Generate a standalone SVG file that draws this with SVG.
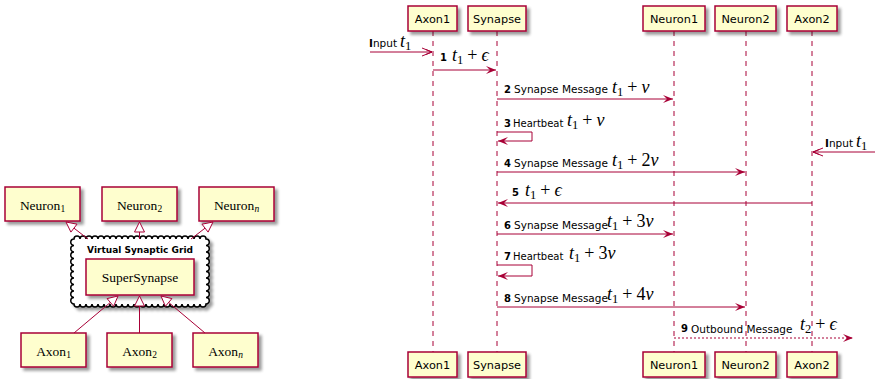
<svg xmlns="http://www.w3.org/2000/svg" width="875" height="379" viewBox="0 0 875 379">
<style>
.box{fill:#FEFECE;stroke:#A80036;stroke-width:1.5}
.pt{font-family:"DejaVu Sans",sans-serif;font-size:11.3px;fill:#000;text-anchor:middle}
.nt{font-family:"Liberation Serif","DejaVu Serif",serif;font-size:13.5px;fill:#000;text-anchor:middle}
.nsub{font-size:9.5px}
.life{stroke:#A80036;stroke-width:1;stroke-dasharray:5,5;fill:none}
.msg{stroke:#A80036;stroke-width:1;fill:none}
.lbl{font-family:"DejaVu Sans",sans-serif;font-size:10.5px;fill:#000}
.hb{font-size:10px}
.num{font-family:"DejaVu Sans",sans-serif;font-size:10px;font-weight:bold;fill:#000}
.m{font-family:"Liberation Serif","DejaVu Serif",serif;font-size:18px;fill:#000}
.i{font-style:italic}
.sb{font-size:12.5px}
.edge{stroke:#A80036;stroke-width:1;fill:none}
.tri{stroke:#A80036;stroke-width:1;fill:#FFFFFF}
</style>
<defs>
<filter id="sh" x="-20%" y="-30%" width="150%" height="170%">
<feGaussianBlur in="SourceAlpha" stdDeviation="1.5"/>
<feOffset dx="3" dy="3" result="o"/>
<feComponentTransfer><feFuncA type="linear" slope="0.4"/></feComponentTransfer>
<feMerge><feMergeNode/><feMergeNode in="SourceGraphic"/></feMerge>
</filter>
<marker id="ah" viewBox="0 0 10 8" refX="10" refY="4" markerWidth="10" markerHeight="8" markerUnits="userSpaceOnUse" orient="auto">
<path d="M0,0 L10,4 L0,8 L4,4 Z" fill="#A80036"/>
</marker>
<marker id="oa" viewBox="-1 -1 12 10" refX="10" refY="4" markerWidth="12" markerHeight="10" markerUnits="userSpaceOnUse" orient="auto">
<path d="M0,0 L10,4 L0,8 M4,1.6 L10,4 L4,6.4" fill="none" stroke="#A80036" stroke-width="1"/>
</marker>
</defs>

<!-- Left: class diagram -->
<g id="n-neuron1"><rect class="box" x="5" y="187" width="75" height="34" filter="url(#sh)"/><text class="nt" x="42.5" y="210">Neuron<tspan class="nsub" dy="2">1</tspan></text></g>
<g id="n-neuron2"><rect class="box" x="102" y="187" width="75" height="34" filter="url(#sh)"/><text class="nt" x="139.5" y="210">Neuron<tspan class="nsub" dy="2">2</tspan></text></g>
<g id="n-neuronn"><rect class="box" x="199" y="187" width="75" height="34" filter="url(#sh)"/><text class="nt" x="236.5" y="210">Neuron<tspan class="nsub i" dy="2">n</tspan></text></g>

<g id="n-grid">
<path filter="url(#sh)" fill="#FFFFFF" stroke="#000000" stroke-width="1.5" d="M74,239 a3,3 0 0 1 6,0 a3,3 0 0 1 6,0 a3,3 0 0 1 6,0 a3,3 0 0 1 6,0 a3,3 0 0 1 6,0 a3,3 0 0 1 6,0 a3,3 0 0 1 6,0 a3,3 0 0 1 6,0 a3,3 0 0 1 6,0 a3,3 0 0 1 6,0 a3,3 0 0 1 6,0 a3,3 0 0 1 6,0 a3,3 0 0 1 6,0 a3,3 0 0 1 6,0 a3,3 0 0 1 6,0 a3,3 0 0 1 6,0 a3,3 0 0 1 6,0 a3,3 0 0 1 6,0 a3,3 0 0 1 6,0 a3,3 0 0 1 6,0 a3,3 0 0 1 6,0 a3,3 0 0 1 6,0 a3.25,3.25 0 0 1 0,6.5 a3.25,3.25 0 0 1 0,6.5 a3.25,3.25 0 0 1 0,6.5 a3.25,3.25 0 0 1 0,6.5 a3.25,3.25 0 0 1 0,6.5 a3.25,3.25 0 0 1 0,6.5 a3.25,3.25 0 0 1 0,6.5 a3.25,3.25 0 0 1 0,6.5 a3.25,3.25 0 0 1 0,6.5 a3.25,3.25 0 0 1 0,6.5 a3,3 0 0 1 -6,0 a3,3 0 0 1 -6,0 a3,3 0 0 1 -6,0 a3,3 0 0 1 -6,0 a3,3 0 0 1 -6,0 a3,3 0 0 1 -6,0 a3,3 0 0 1 -6,0 a3,3 0 0 1 -6,0 a3,3 0 0 1 -6,0 a3,3 0 0 1 -6,0 a3,3 0 0 1 -6,0 a3,3 0 0 1 -6,0 a3,3 0 0 1 -6,0 a3,3 0 0 1 -6,0 a3,3 0 0 1 -6,0 a3,3 0 0 1 -6,0 a3,3 0 0 1 -6,0 a3,3 0 0 1 -6,0 a3,3 0 0 1 -6,0 a3,3 0 0 1 -6,0 a3,3 0 0 1 -6,0 a3,3 0 0 1 -6,0 a3.25,3.25 0 0 1 0,-6.5 a3.25,3.25 0 0 1 0,-6.5 a3.25,3.25 0 0 1 0,-6.5 a3.25,3.25 0 0 1 0,-6.5 a3.25,3.25 0 0 1 0,-6.5 a3.25,3.25 0 0 1 0,-6.5 a3.25,3.25 0 0 1 0,-6.5 a3.25,3.25 0 0 1 0,-6.5 a3.25,3.25 0 0 1 0,-6.5 a3.25,3.25 0 0 1 0,-6.5 Z"/>
<text x="140" y="253" font-family="'DejaVu Sans',sans-serif" font-size="9px" font-weight="bold" text-anchor="middle">Virtual Synaptic Grid</text>
</g>
<g id="n-supersynapse"><rect class="box" x="86" y="259" width="108" height="36" filter="url(#sh)"/><text class="nt" x="140" y="282">SuperSynapse</text></g>

<g id="n-axon1"><rect class="box" x="21" y="333" width="65" height="34" filter="url(#sh)"/><text class="nt" x="53.5" y="356">Axon<tspan class="nsub" dy="2">1</tspan></text></g>
<g id="n-axon2"><rect class="box" x="107" y="333" width="65" height="34" filter="url(#sh)"/><text class="nt" x="139.5" y="356">Axon<tspan class="nsub" dy="2">2</tspan></text></g>
<g id="n-axonn"><rect class="box" x="193" y="333" width="65" height="34" filter="url(#sh)"/><text class="nt" x="225.5" y="356">Axon<tspan class="nsub i" dy="2">n</tspan></text></g>

<g id="class-edges">
<line class="edge" x1="88" y1="239" x2="73.9" y2="228.1"/><polygon class="tri" points="66,222 77,224.2 70.9,232.1"/>
<line class="edge" x1="139.5" y1="239" x2="139.5" y2="232"/><polygon class="tri" points="139.5,222 144.5,232 134.5,232"/>
<line class="edge" x1="191" y1="239" x2="205.1" y2="228.1"/><polygon class="tri" points="213,222 208.1,232.1 202,224.2"/>
<line class="edge" x1="74" y1="333" x2="110.4" y2="302.4"/><polygon class="tri" points="118,296 113.6,306.3 107.1,298.6"/>
<line class="edge" x1="139.5" y1="333" x2="139.5" y2="306"/><polygon class="tri" points="139.5,296 144.5,306 134.5,306"/>
<line class="edge" x1="205" y1="333" x2="168.6" y2="302.4"/><polygon class="tri" points="161,296 171.9,298.6 165.4,306.3"/>
</g>

<!-- Right: sequence diagram -->
<g id="lifelines">
<line class="life" x1="433" y1="31" x2="433" y2="352"/>
<line class="life" x1="497" y1="31" x2="497" y2="352"/>
<line class="life" x1="674" y1="31" x2="674" y2="352"/>
<line class="life" x1="746" y1="31" x2="746" y2="352"/>
<line class="life" x1="812" y1="31" x2="812" y2="352"/>
</g>

<g id="p-axon1">
<rect class="box" x="408" y="6" width="49" height="25" filter="url(#sh)"/><text class="pt" x="432.5" y="23">Axon1</text>
<rect class="box" x="408" y="352" width="49" height="25" filter="url(#sh)"/><text class="pt" x="432.5" y="369">Axon1</text>
</g>
<g id="p-synapse">
<rect class="box" x="468" y="6" width="58" height="25" filter="url(#sh)"/><text class="pt" x="497" y="23">Synapse</text>
<rect class="box" x="468" y="352" width="58" height="25" filter="url(#sh)"/><text class="pt" x="497" y="369">Synapse</text>
</g>
<g id="p-neuron1">
<rect class="box" x="643" y="6" width="62" height="25" filter="url(#sh)"/><text class="pt" x="674" y="23">Neuron1</text>
<rect class="box" x="643" y="352" width="62" height="25" filter="url(#sh)"/><text class="pt" x="674" y="369">Neuron1</text>
</g>
<g id="p-neuron2">
<rect class="box" x="715" y="6" width="61" height="25" filter="url(#sh)"/><text class="pt" x="745.5" y="23">Neuron2</text>
<rect class="box" x="715" y="352" width="61" height="25" filter="url(#sh)"/><text class="pt" x="745.5" y="369">Neuron2</text>
</g>
<g id="p-axon2">
<rect class="box" x="787" y="6" width="50" height="25" filter="url(#sh)"/><text class="pt" x="812" y="23">Axon2</text>
<rect class="box" x="787" y="352" width="50" height="25" filter="url(#sh)"/><text class="pt" x="812" y="369">Axon2</text>
</g>

<g id="messages">
<line class="msg" x1="370" y1="52" x2="432" y2="52" marker-end="url(#oa)"/>
<line class="msg" x1="433" y1="70" x2="496" y2="70" marker-end="url(#ah)"/>
<line class="msg" x1="497" y1="99" x2="673" y2="99" marker-end="url(#ah)"/>
<path class="msg" d="M497,132 H532 V141 H498" marker-end="url(#ah)"/>
<line class="msg" x1="875" y1="152" x2="813" y2="152" marker-end="url(#oa)"/>
<line class="msg" x1="497" y1="172" x2="745" y2="172" marker-end="url(#ah)"/>
<line class="msg" x1="812" y1="203" x2="498" y2="203" marker-end="url(#ah)"/>
<line class="msg" x1="497" y1="234" x2="673" y2="234" marker-end="url(#ah)"/>
<path class="msg" d="M497,265 H532 V276 H498" marker-end="url(#ah)"/>
<line class="msg" x1="497" y1="307" x2="745" y2="307" marker-end="url(#ah)"/>
<line class="msg" x1="674" y1="338" x2="853" y2="338" stroke-dasharray="2,2" marker-end="url(#ah)"/>
</g>

<g id="labels">
<text class="lbl" x="369" y="47"><tspan font-weight="bold">I</tspan>nput</text>
<text class="m" x="400" y="47"><tspan class="i">t</tspan><tspan class="sb" dy="3">1</tspan></text>

<text class="num" x="440" y="61">1</text>
<text class="m" x="452" y="61"><tspan class="i">t</tspan><tspan class="sb" dy="3">1</tspan><tspan dx="4" dy="-3">+</tspan><tspan class="i" dx="4">ϵ</tspan></text>

<text class="num" x="504" y="93">2</text><text class="lbl" x="514" y="93">Synapse Message</text>
<text class="m" x="612" y="93"><tspan class="i">t</tspan><tspan class="sb" dy="3">1</tspan><tspan dx="4" dy="-3">+</tspan><tspan class="i" dx="4">ν</tspan></text>

<text class="num" x="504" y="127">3</text><text class="lbl hb" x="513" y="127">Heartbeat</text>
<text class="m" x="567" y="126"><tspan class="i">t</tspan><tspan class="sb" dy="3">1</tspan><tspan dx="4" dy="-3">+</tspan><tspan class="i" dx="4">ν</tspan></text>

<text class="lbl" x="825" y="147"><tspan font-weight="bold">I</tspan>nput</text>
<text class="m" x="856" y="147"><tspan class="i">t</tspan><tspan class="sb" dy="3">1</tspan></text>

<text class="num" x="504" y="167">4</text><text class="lbl" x="514" y="167">Synapse Message</text>
<text class="m" x="612" y="166"><tspan class="i">t</tspan><tspan class="sb" dy="3">1</tspan><tspan dx="4" dy="-3">+</tspan><tspan dx="4">2</tspan><tspan class="i">ν</tspan></text>

<text class="num" x="512" y="196">5</text>
<text class="m" x="525" y="196"><tspan class="i">t</tspan><tspan class="sb" dy="3">1</tspan><tspan dx="4" dy="-3">+</tspan><tspan class="i" dx="4">ϵ</tspan></text>

<text class="num" x="504" y="229">6</text><text class="lbl" x="514" y="229">Synapse Message</text>
<text class="m" x="607" y="227"><tspan class="i">t</tspan><tspan class="sb" dy="3">1</tspan><tspan dx="4" dy="-3">+</tspan><tspan dx="4">3</tspan><tspan class="i">ν</tspan></text>

<text class="num" x="504" y="260">7</text><text class="lbl hb" x="513" y="260">Heartbeat</text>
<text class="m" x="569" y="259"><tspan class="i">t</tspan><tspan class="sb" dy="3">1</tspan><tspan dx="4" dy="-3">+</tspan><tspan dx="4">3</tspan><tspan class="i">ν</tspan></text>

<text class="num" x="504" y="302">8</text><text class="lbl" x="514" y="302">Synapse Message</text>
<text class="m" x="607" y="300"><tspan class="i">t</tspan><tspan class="sb" dy="3">1</tspan><tspan dx="4" dy="-3">+</tspan><tspan dx="4">4</tspan><tspan class="i">ν</tspan></text>

<text class="num" x="681" y="332">9</text><text class="lbl" x="691" y="333">Outbound Message</text>
<text class="m" x="800" y="330"><tspan class="i">t</tspan><tspan class="sb" dy="3">2</tspan><tspan dx="4" dy="-3">+</tspan><tspan class="i" dx="4">ϵ</tspan></text>
</g>
</svg>
